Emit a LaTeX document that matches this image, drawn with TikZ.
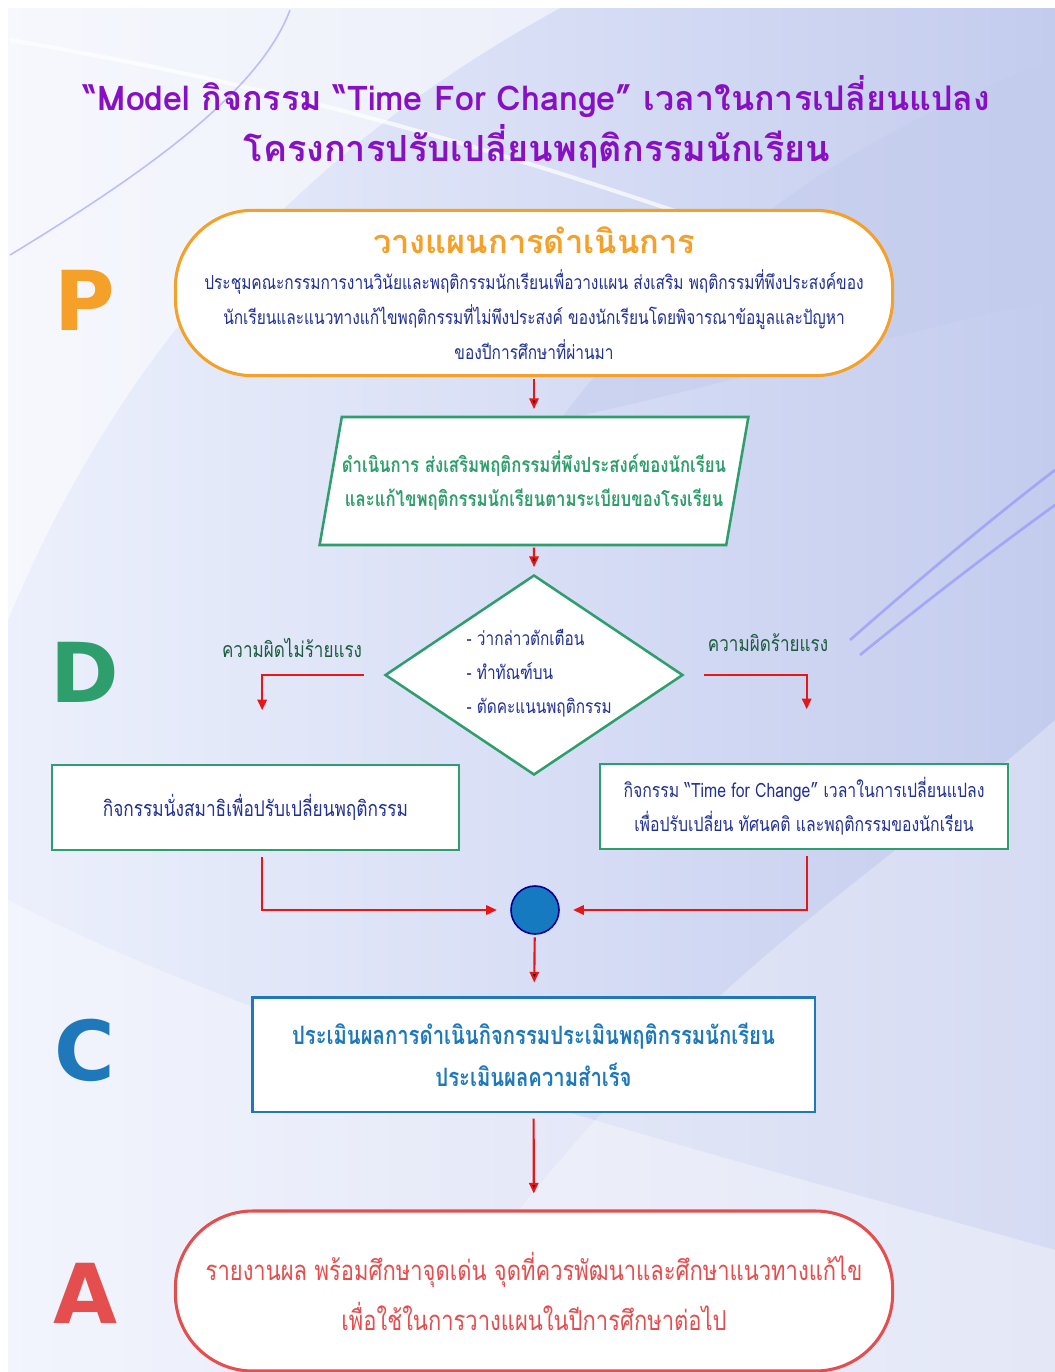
\documentclass[tikz,border=0pt]{standalone}
\usepackage{fontspec}
\setmainfont{Liberation Sans}
\newfontfamily\thaifont[Script=Thai,FakeStretch=0.8]{Loma}
\newfontfamily\titlefont[Script=Thai]{Loma}
\newfontfamily\letterfont{DejaVu Sans}
\usepackage{tikz}
\usetikzlibrary{
  arrows.meta,
  positioning,
  shapes.geometric,
  calc
}
\usepackage{xcolor}
\definecolor{titlePurple}{RGB}{136,16,196}
\definecolor{planOrange}{RGB}{245,160,40}
\definecolor{doGreen}{RGB}{46,158,108}
\definecolor{checkBlue}{RGB}{30,120,185}
\definecolor{actRed}{RGB}{228,78,78}
\definecolor{textNavy}{RGB}{32,48,150}
\definecolor{labelGreen}{RGB}{28,92,62}
\definecolor{arrowRed}{RGB}{232,22,22}
\definecolor{bgBlue}{RGB}{196,204,238}
\definecolor{bgLight}{RGB}{236,240,252}
\definecolor{dotBlue}{RGB}{22,122,192}
\tikzset{
  flow/.style={->,draw=arrowRed,line width=1.6pt},
  pdca/.style={font=\letterfont\bfseries\fontsize{62}{62}\selectfont},
  plantext/.style={text=textNavy,font=\thaifont\fontsize{14.5}{26}\selectfont},
  planbox/.style={draw=planOrange,line width=2.3pt,fill=white,
    rounded corners=58pt,minimum width=538pt,minimum height=124pt,
    align=center,plantext},
  dobox/.style={draw=doGreen,line width=1.9pt,fill=white,align=center},
  checkbox/.style={draw=checkBlue,line width=2pt,fill=white,align=center,
    minimum width=422pt,minimum height=86pt,text=checkBlue,
    font=\thaifont\bfseries\fontsize{19}{31.5}\selectfont},
  actbox/.style={draw=actRed,line width=2.3pt,fill=white,align=center,
    rounded corners=58pt,minimum width=538pt,minimum height=120pt,text=actRed,
    font=\thaifont\fontsize{20.6}{37.5}\selectfont},
  navytext/.style={text=textNavy,font=\thaifont\fontsize{14.4}{25.5}\selectfont},
  greenlabel/.style={text=labelGreen,font=\thaifont\fontsize{16}{20}\selectfont}
}
\begin{document}
\begin{tikzpicture}[x=0.75pt,y=-0.75pt,>={Triangle[length=8pt,width=7pt]}]
  \useasboundingbox (0,0) rectangle (1055,1372);
  \fill[white] (0,0) rectangle (1055,1372);
  \shade[left color=bgLight,right color=bgBlue] (8,8) rectangle (1055,1372);
  \fill[white,opacity=0.55] (8,8) -- (560,8) .. controls (300,150) and (120,350) .. (8,620) -- cycle;
  \fill[white,opacity=0.35] (8,1372) -- (8,900) .. controls (300,1050) and (700,1150) .. (1055,1250) -- (1055,1372) -- cycle;
  \fill[white,opacity=0.3] (1055,720) .. controls (850,900) and (650,1000) .. (400,1372) -- (1055,1372) -- cycle;
  \fill[bgBlue,opacity=0.5] (1055,60) .. controls (800,150) and (650,300) .. (560,420) .. controls (750,380) and (900,330) .. (1055,300) -- cycle;
  \draw[white,line width=3pt,opacity=0.7] (10,40) .. controls (300,90) and (500,150) .. (760,240);
  \draw[blue!40,line width=1.2pt,opacity=0.6] (10,255) .. controls (150,170) and (260,90) .. (290,10);
  \draw[blue!45,line width=2pt,opacity=0.6] (850,640) .. controls (930,570) and (990,520) .. (1055,470);
  \draw[blue!45,line width=2pt,opacity=0.6] (860,655) .. controls (940,590) and (1000,545) .. (1055,505);

  \node[text=titlePurple,font=\titlefont\bfseries\fontsize{25.5}{38}\selectfont,align=center]
    (title) at (537,122) {“Model กิจกรรม “Time For Change” เวลาในการเปลี่ยนแปลง\\
    \fontsize{27}{38}\selectfont โครงการปรับเปลี่ยนพฤติกรรมนักเรียน};

  \node[planbox] (plan) at (534,293)
    {{\color{planOrange}\titlefont\fontsize{24.5}{26}\selectfont\bfseries วางแผนการดำเนินการ}\\[1pt]
    ประชุมคณะกรรมการงานวินัยและพฤติกรรมนักเรียนเพื่อวางแผน ส่งเสริม พฤติกรรมที่พึงประสงค์ของ\\
    นักเรียนและแนวทางแก้ไขพฤติกรรมที่ไม่พึงประสงค์ ของนักเรียนโดยพิจารณาข้อมูลและปัญหา\\
    ของปีการศึกษาที่ผ่านมา};
  \node[dobox,trapezium,trapezium left angle=72,trapezium right angle=108,
    trapezium stretches=true,minimum width=310pt,minimum height=96pt,inner xsep=0pt,
    text=doGreen,font=\thaifont\bfseries\fontsize{15.7}{25.5}\selectfont] (act) at (534,481)
    {ดำเนินการ ส่งเสริมพฤติกรรมที่พึงประสงค์ของนักเรียน\\
    และแก้ไขพฤติกรรมนักเรียนตามระเบียบของโรงเรียน};
  \node[dobox,diamond,minimum width=223.5pt,minimum height=150pt,inner sep=0pt] (dia) at (534,675) {};
  \node[navytext,align=left,anchor=west] (rules) at (462,673)
    {- ว่ากล่าวตักเตือน\\- ทำทัณฑ์บน\\- ตัดคะแนนพฤติกรรม};
  \node[greenlabel] (minor) at (292,648) {ความผิดไม่ร้ายแรง};
  \node[greenlabel] (major) at (768,643) {ความผิดร้ายแรง};
  \node[dobox,navytext,font=\thaifont\fontsize{16.2}{25.5}\selectfont,
    minimum width=305pt,minimum height=64pt] (calm) at (255.5,807.5)
    {กิจกรรมนั่งสมาธิเพื่อปรับเปลี่ยนพฤติกรรม};
  \node[dobox,navytext,font=\thaifont\fontsize{14.8}{25.5}\selectfont,
    minimum width=306pt,minimum height=64pt] (change) at (804,806.5)
    {กิจกรรม “Time for Change” เวลาในการเปลี่ยนแปลง\\
    เพื่อปรับเปลี่ยน ทัศนคติ และพฤติกรรมของนักเรียน};
  \node[circle,fill=dotBlue,draw=blue!60!black,line width=1.2pt,minimum size=36pt] (merge) at (535,910) {};
  \node[checkbox] (eval) at (533.5,1054.5)
    {ประเมินผลการดำเนินกิจกรรมประเมินพฤติกรรมนักเรียน\\ประเมินผลความสำเร็จ};
  \node[actbox] (report) at (534,1291)
    {รายงานผล พร้อมศึกษาจุดเด่น จุดที่ควรพัฒนาและศึกษาแนวทางแก้ไข\\
    เพื่อใช้ในการวางแผนในปีการศึกษาต่อไป};

  \node[pdca,text=planOrange] (P) at (85,300) {P};
  \node[pdca,text=doGreen] (D) at (85,672) {D};
  \node[pdca,text=checkBlue] (C) at (85,1050) {C};
  \node[pdca,text=actRed] (A) at (85,1293) {A};

  \path[flow,shorten <=1pt,shorten >=5pt]
    (plan) edge (act)
    (act) edge (dia);
  \draw[flow] ([xshift=-15pt]dia.west) -| ([xshift=5pt,yshift=40pt]calm.north);
  \draw[flow] ([xshift=15pt]dia.east) -| ([xshift=2pt,yshift=40pt]change.north);
  \draw[flow,shorten >=10pt] ([xshift=5pt,yshift=-4pt]calm.south) |- (merge.west);
  \draw[flow,shorten >=10pt] ([xshift=2pt,yshift=-4pt]change.south) |- (merge.east);
  \path[flow,shorten <=2pt,shorten >=10pt]
    (merge) edge (eval);
  \path[flow,shorten <=4pt,shorten >=12pt]
    (eval) edge (report);
\end{tikzpicture}
\end{document}
